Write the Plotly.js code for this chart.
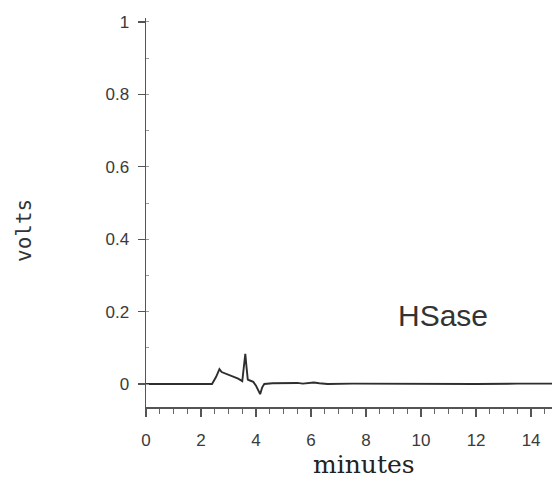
<!DOCTYPE html>
<html>
<head>
<meta charset="utf-8">
<script src="https://cdn.plot.ly/plotly-3.0.1.min.js"></script>
<style>html,body{margin:0;padding:0;background:#fff;}#chart{width:552px;height:480px;}</style>
</head>
<body>
<div id="chart"></div>
<script>
// Time (minutes) and detector signal (volts)
const minutes = [0, 1.0, 2.0, 2.4, 2.55, 2.67, 2.75, 2.85, 2.95, 3.05, 3.2, 3.35, 3.5, 3.56, 3.61, 3.65, 3.7, 3.8, 3.9, 4.0, 4.08, 4.15, 4.22, 4.3, 4.6, 5.0, 5.2, 5.5, 5.7, 6.0, 6.1, 6.3, 6.6, 7.5, 9.0, 10.5, 12.0, 13.5, 14.8];
const volts   = [0, 0, 0, 0, 0.02, 0.041, 0.033, 0.03, 0.026, 0.024, 0.02, 0.015, 0.008, 0.045, 0.083, 0.05, 0.012, 0.009, 0.006, -0.005, -0.02, -0.028, -0.01, 0.0, 0.002, 0.003, 0.004, 0.003, 0.001, 0.003, 0.004, 0.002, 0.0, 0.001, 0.0, 0.001, 0.0, 0.001, 0.001];
const xTicks = [0, 2, 4, 6, 8, 10, 12, 14];
const yTicks = [0, 0.2, 0.4, 0.6, 0.8, 1];
const yTickText = ['0', '0.2', '0.4', '0.6', '0.8', '1'];
const sampleLabel = 'HSase';
const xTitle = 'minutes';
const yTitle = 'volts';

const ink = '#3a3a3a';
const W = 552, H = 480, ML = 146, MR = 0, MT = 18, MB = 73;
const plotW = W - ML - MR, plotH = H - MT - MB;
const px = x => (x - ML) / plotW;          // pixel -> paper x
const py = y => (H - MB - y) / plotH;      // pixel -> paper y

const trace = {
  x: minutes, y: volts, type: 'scatter', mode: 'lines',
  line: {color: '#2e2e2e', width: 1.9}, hoverinfo: 'skip', showlegend: false
};
const layout = {
  width: W, height: H,
  margin: {l: ML, r: MR, t: MT, b: MB},
  paper_bgcolor: '#fff', plot_bgcolor: '#fff',
  font: {family: 'Liberation Sans, Arial, sans-serif', color: ink, size: 17},
  xaxis: {
    range: [0, 14.76], showgrid: false, zeroline: false,
    showline: true, linecolor: '#555', linewidth: 1.5,
    tickvals: xTicks, ticks: 'outside', ticklen: 8, tickcolor: '#555', tickwidth: 1.2,
    minor: {dtick: 0.5, ticks: 'outside', ticklen: 5, tickcolor: '#666', tickwidth: 1},
    tickfont: {size: 17, color: ink}, ticklabelstandoff: 9,
    title: {text: ''}
  },
  yaxis: {
    range: [-0.0635, 1.011], showgrid: false, zeroline: false,
    showline: true, linecolor: '#555', linewidth: 1.5,
    tickvals: yTicks, ticktext: yTickText, ticks: 'outside', ticklen: 7, tickcolor: '#555', tickwidth: 1.2,
    minor: {dtick: 0.1, ticks: 'inside', ticklen: 3, tickcolor: '#999', tickwidth: 1},
    tickfont: {size: 17, color: ink}, ticklabelstandoff: 5,
    title: {text: ''}
  },
  annotations: [
    {text: sampleLabel, x: px(443), y: py(315), xref: 'paper', yref: 'paper', showarrow: false,
     xanchor: 'center', yanchor: 'middle',
     font: {family: 'Liberation Sans, Arial, sans-serif', size: 30, color: '#333'}},
    {text: xTitle, x: px(364), y: py(464), xref: 'paper', yref: 'paper', showarrow: false,
     xanchor: 'center', yanchor: 'middle',
     font: {family: 'DejaVu Serif, serif', size: 25, color: '#222'}},
    {text: yTitle, x: px(24), y: py(230), xref: 'paper', yref: 'paper', showarrow: false,
     textangle: -90, xanchor: 'center', yanchor: 'middle',
     font: {family: 'DejaVu Sans Mono, monospace', size: 21, color: '#333'}}
  ]
};
Plotly.newPlot('chart', [trace], layout, {displayModeBar: false, staticPlot: true});
</script>
</body>
</html>
